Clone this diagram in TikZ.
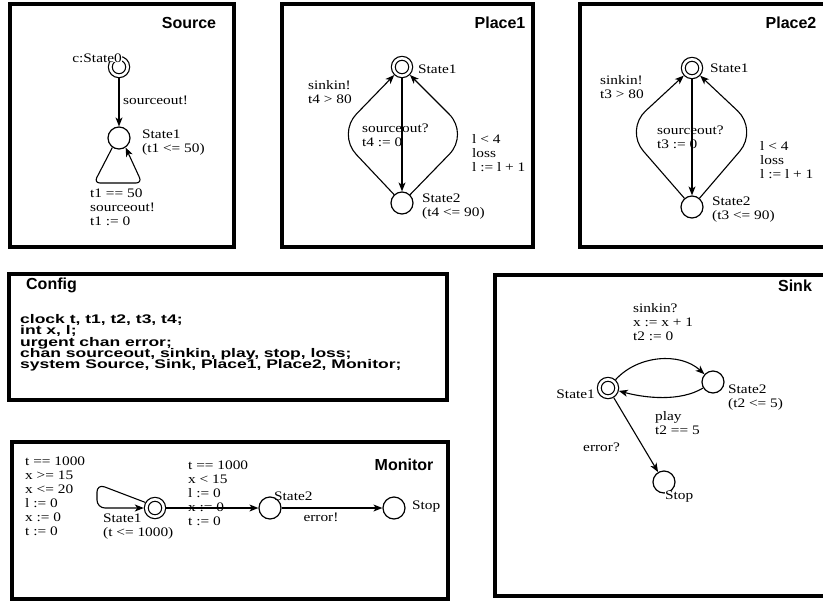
\documentclass[tikz,border=0pt]{standalone}
\usepackage{fontspec}
\setmainfont{Liberation Serif}
\setsansfont{Liberation Sans}
\newfontfamily\lblfont{Liberation Serif}[FakeStretch=1.18]
\newfontfamily\cfgfont{Liberation Sans}[FakeStretch=1.4]
\newcommand{\tightlines}{\lineskiplimit-20pt\relax}
\usetikzlibrary{arrows.meta}
\tikzset{
  >={Stealth[length=9pt,width=7pt,inset=2.5pt]},
  panel/.style={draw,line width=3.6pt},
  title/.style={font=\sffamily\bfseries\fontsize{16}{18}\selectfont,inner sep=0pt},
  loc/.style={circle,draw,line width=1.2pt,minimum size=22pt,inner sep=0pt,fill=white},
  initloc/.style={circle,draw,line width=1.2pt,double,double distance=2.6pt,
    minimum size=17.4pt,inner sep=0pt,outer sep=2.5pt},
  edge/.style={->,line width=1.1pt},
  lbl/.style={font={\lblfont\fontsize{13}{14}\selectfont\tightlines},
    align=left,inner sep=0pt,anchor=west},
  cfg/.style={font={\cfgfont\bfseries\fontsize{12.5}{11.3}\selectfont\tightlines},
    align=left,inner sep=0pt,anchor=west},
}

\begin{document}
\begin{tikzpicture}[x=1pt,y=-1pt]
  \useasboundingbox (0,0) rectangle (823,603);
  \clip (0,0) rectangle (823,603);
  % the six panels
  \foreach \nm/\ll/\ur/\tp in {
    Source/{10,4}/{234,247}/{189,22.5},
    Place1/{282,4}/{533,247}/{500,22.5},
    Place2/{580,4}/{840,247}/{791,22.5},
    Config/{9,274}/{447,400}/{51.5,285.5},
    Monitor/{12,442}/{448,599}/{404,465},
    Sink/{495,275}/{840,596}/{795,286}}
  {
    \draw[panel] (\ll) rectangle (\ur);
    \node[title] (\nm) at (\tp) {\nm};
  }

  % Source
  \node[initloc] (s0) at (119,67) {};
  \node[loc] (s1) at (119,138) {};
  \node[lbl,anchor=east,fill=white] (s0n) at (122,58) {c:State0};
  \node[lbl] (s1n) at (142,142.5) {State1\\(t1 <= 50)};
  \draw[edge] (s0) -- (s1);
  \draw[edge,rounded corners=6pt] (s1.235) -- (94,183) -- (142,183) -- (s1.-55);
  \node[lbl] (s01) at (123,100) {sourceout!};
  \node[lbl] (s11) at (90,207) {t1 == 50\\sourceout!\\t1 := 0};

  % Place1
  \node[initloc] (p1a) at (402,67) {};
  \node[loc] (p1b) at (402,203) {};
  \draw[edge] (p1a) -- (p1b);
  \draw[edge,rounded corners=28pt] (p1b) -- (337,134) -- (p1a);
  \draw[edge,rounded corners=28pt] (p1b) -- (469,134) -- (p1a);
  \node[lbl] (p1an) at (418,69) {State1};
  \node[lbl] (p1bn) at (422,207) {State2\\(t4 <= 90)};
  \node[lbl] (p1ba) at (308,92.5) {sinkin!\\t4 > 80};
  \node[lbl] (p1ab) at (362,135) {sourceout?\\t4 := 0};
  \node[lbl] (p1bb) at (472,153) {l < 4\\loss\\l := l + 1};

  % Place2
  \node[initloc] (p2a) at (692,68) {};
  \node[loc] (p2b) at (692,207) {};
  \draw[edge] (p2a) -- (p2b);
  \draw[edge,rounded corners=28pt] (p2b) -- (625,130) -- (p2a);
  \draw[edge,rounded corners=28pt] (p2b) -- (758,130) -- (p2a);
  \node[lbl] (p2an) at (710,68) {State1};
  \node[lbl] (p2bn) at (712,210) {State2\\(t3 <= 90)};
  \node[lbl] (p2ba) at (600,87) {sinkin!\\t3 > 80};
  \node[lbl] (p2ab) at (657,137) {sourceout?\\t3 := 0};
  \node[lbl] (p2bb) at (760,160) {l < 4\\loss\\l := l + 1};

  % Config
  \node[cfg] (decl) at (20,343) {clock t, t1, t2, t3, t4;\\int x, l;\\urgent chan error;\\
    chan sourceout, sinkin, play, stop, loss;\\system Source, Sink, Place1, Place2, Monitor;};

  % Monitor
  \node[initloc] (m1) at (155,508) {};
  \node[loc] (m2) at (270,508) {};
  \node[loc] (m3) at (394,508) {};
  \draw[edge,rounded corners=8pt] (m1.150) -- (97,484) -- (97,508) -- (m1.west);
  \draw[edge] (m1) -- (m2);
  \draw[edge] (m2) -- (m3);
  \node[lbl] (m1n) at (103,527) {State1\\(t <= 1000)};
  \node[lbl] (m2n) at (274,496) {State2};
  \node[lbl] (m3n) at (412,507) {Stop};
  \node[lbl] (m11) at (25,496.5) {t == 1000\\x >= 15\\x <= 20\\l := 0\\x := 0\\t := 0};
  \node[lbl] (m12) at (188,493) {t == 1000\\x < 15\\l := 0\\x := 0\\t := 0};
  \node[lbl,anchor=center] (m23) at (321,517) {error!};

  % Sink
  \node[initloc] (k1) at (608,388) {};
  \node[loc] (k2) at (713,382) {};
  \node[loc] (k3) at (664,482) {};
  \draw[edge] (k1) .. controls (638,355) and (680,352) .. (k2);
  \draw[edge] (k2) .. controls (680,402) and (645,398) .. (k1);
  \draw[edge] (k1) -- (k3);
  \node[lbl,anchor=east] (k1n) at (595,394) {State1};
  \node[lbl] (k2n) at (728,397.5) {State2\\(t2 <= 5)};
  \node[lbl,fill=white] (k3n) at (665,497) {Stop};
  \node[lbl] (k12) at (633,322.5) {sinkin?\\x := x + 1\\t2 := 0};
  \node[lbl] (k21) at (655,423) {play\\t2 == 5};
  \node[lbl] (k13) at (583,447) {error?};
\end{tikzpicture}
\end{document}
